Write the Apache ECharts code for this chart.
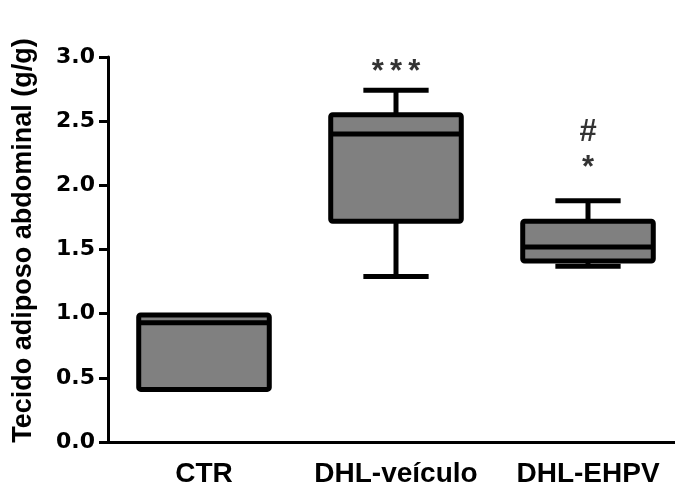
<!DOCTYPE html>
<html><head><meta charset="utf-8">
<script src="https://cdn.jsdelivr.net/npm/echarts@6/dist/echarts.min.js"></script>
<style>html,body{margin:0;padding:0;background:#fff}#c{width:675px;height:483px}</style>
</head><body><div id="c"></div>
<script>
const categories = ['CTR', 'DHL-veículo', 'DHL-EHPV'];
// [min, Q1, median, Q3, max]
const boxValues = [
  [0.41, 0.41, 0.93, 0.99, 0.99],
  [1.29, 1.72, 2.40, 2.55, 2.74],
  [1.37, 1.41, 1.52, 1.72, 1.88]
];
const annotations = [
  { cat: 1, y: 2.88, text: '*\u2009*\u2009*' },
  { cat: 2, y: 2.415, text: '#' },
  { cat: 2, y: 2.13, text: '*' }
];
const yTicks = { min: 0, max: 3, interval: 0.5 };
const yName = 'Tecido adiposo abdominal (g/g)';

const font = 'Liberation Sans, Arial, sans-serif';
const chart = echarts.init(document.getElementById('c'));
chart.setOption({
  animation: false,
  grid: { left: 108, top: 57, width: 576, height: 385, containLabel: false, outerBoundsMode: 'none' },
  xAxis: {
    type: 'category', data: categories,
    axisLine: { lineStyle: { color: '#000', width: 3 } },
    axisTick: { alignWithLabel: true, length: 9, lineStyle: { color: '#000', width: 3 } },
    axisLabel: { interval: 0, color: '#000', fontFamily: font, fontWeight: 'bold', fontSize: 28, margin: 18 }
  },
  yAxis: {
    type: 'value', min: yTicks.min, max: yTicks.max, interval: yTicks.interval,
    name: yName, nameLocation: 'middle', nameGap: 71,
    nameTextStyle: { color: '#000', fontFamily: font, fontWeight: 'bold', fontSize: 27, padding: [0, 0, 0, 18] },
    splitLine: { show: false },
    axisLine: { show: true, lineStyle: { color: '#000', width: 3 } },
    axisTick: { show: true, length: 9, lineStyle: { color: '#000', width: 3 } },
    axisLabel: { color: '#000', fontFamily: 'DejaVu Sans', fontWeight: 'bold', fontSize: 22, margin: 13,
      formatter: v => v.toFixed(1) }
  },
  series: [
    {
      type: 'custom',
      data: boxValues.map((b, i) => [i].concat(b)),
      renderItem: function (params, api) {
        const x = api.value(0);
        const bw = api.size([1, 0])[0] * 0.68;
        const cw = bw * 0.5;
        const pMin = api.coord([x, api.value(1)]);
        const pQ1 = api.coord([x, api.value(2)]);
        const pMed = api.coord([x, api.value(3)]);
        const pQ3 = api.coord([x, api.value(4)]);
        const pMax = api.coord([x, api.value(5)]);
        const cx = pMed[0];
        const ls = { stroke: '#000', lineWidth: 5, fill: null };
        const children = [];
        if (pMax[1] < pQ3[1]) {
          children.push({ type: 'line', shape: { x1: cx, y1: pQ3[1], x2: cx, y2: pMax[1] }, style: ls });
          children.push({ type: 'line', shape: { x1: cx - cw / 2, y1: pMax[1], x2: cx + cw / 2, y2: pMax[1] }, style: ls });
        }
        if (pMin[1] > pQ1[1]) {
          children.push({ type: 'line', shape: { x1: cx, y1: pQ1[1], x2: cx, y2: pMin[1] }, style: ls });
          children.push({ type: 'line', shape: { x1: cx - cw / 2, y1: pMin[1], x2: cx + cw / 2, y2: pMin[1] }, style: ls });
        }
        children.push({ type: 'rect', shape: { x: cx - bw / 2, y: pQ3[1], width: bw, height: pQ1[1] - pQ3[1], r: 2 },
          style: { fill: '#808080', stroke: '#000', lineWidth: 5, lineJoin: 'round' } });
        children.push({ type: 'line', shape: { x1: cx - bw / 2, y1: pMed[1], x2: cx + bw / 2, y2: pMed[1] }, style: ls });
        return { type: 'group', children: children };
      }
    },
    {
      type: 'scatter', symbolSize: 0,
      data: annotations.map(a => ({ value: [a.cat, a.y], label: { formatter: a.text } })),
      label: { show: true, position: 'inside', color: '#000', fontFamily: font, fontWeight: 'bold', fontSize: 31 }
    }
  ]
});
</script></body></html>
